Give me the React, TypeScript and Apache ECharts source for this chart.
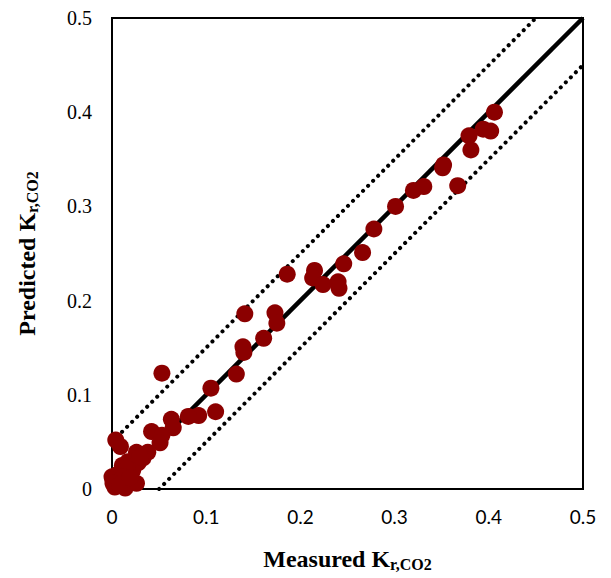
import React, { useEffect, useRef } from "react";
import * as echarts from "echarts";

const measured: number[] = [
  0.406, 0.394, 0.402, 0.379, 0.381, 0.352, 0.351, 0.367, 0.331, 0.32, 0.301, 0.278,
  0.266, 0.246, 0.215, 0.213, 0.224, 0.24, 0.241, 0.186, 0.173, 0.175, 0.141, 0.161,
  0.139, 0.14, 0.132, 0.105, 0.11, 0.092, 0.081, 0.063, 0.065, 0.042, 0.053, 0.051,
  0.004, 0.009, 0.026, 0.038, 0.033, 0.017, 0.028, 0.011, 0.022, 0.016, 0.005, 0.0,
  0.001, 0.012, 0.026, 0.003, 0.014, 0.021, 0.001, 0.053, 0.008, 0.019, 0.03,
];
const predicted: number[] = [
  0.4, 0.382, 0.38, 0.375, 0.36, 0.344, 0.341, 0.322, 0.321, 0.317, 0.3, 0.276,
  0.251, 0.239, 0.232, 0.224, 0.217, 0.22, 0.213, 0.228, 0.187, 0.176, 0.186, 0.16,
  0.151, 0.145, 0.122, 0.107, 0.082, 0.078, 0.077, 0.074, 0.065, 0.061, 0.057, 0.049,
  0.052, 0.045, 0.039, 0.039, 0.033, 0.029, 0.028, 0.025, 0.02, 0.022, 0.015, 0.013,
  0.01, 0.013, 0.006, 0.002, 0.001, 0.007, 0.006, 0.123, 0.004, 0.012, 0.034,
];
const identityLine: number[][] = [[0, 0], [0.5, 0.5]];
const upperBound: number[][] = [[0, 0.05], [0.45, 0.5]];
const lowerBound: number[][] = [[0.05, 0], [0.5, 0.45]];
const xTicks: string[] = ["0", "0.1", "0.2", "0.3", "0.4", "0.5"];

export default function App() {
  const ref = useRef<HTMLDivElement>(null);
  useEffect(() => {
    document.body.style.margin = "0";
    const chart = echarts.init(ref.current!, undefined, { renderer: "svg" });
    const points = measured.map((m, i) => [m, predicted[i]]);
    const titleRich = {
      a: { fontFamily: "'Liberation Serif', serif", fontWeight: "bold", fontSize: 24, color: "#000" },
      b: { fontFamily: "'Liberation Serif', serif", fontWeight: "bold", fontSize: 16, color: "#000", padding: [11, 0, 0, 0] },
    };
    chart.setOption({
      animation: false,
      backgroundColor: "#ffffff",
      grid: {
        left: 112, right: 28, top: 18, bottom: 89,
        show: true, borderColor: "#000", borderWidth: 2, backgroundColor: "transparent",
      },
      xAxis: {
        type: "value", min: 0, max: 0.5, interval: 0.1,
        axisLine: { show: false }, axisTick: { show: false }, splitLine: { show: false },
        axisLabel: {
          margin: 18, fontFamily: "Lato, 'Open Sans', sans-serif", fontSize: 19, color: "#000",
          formatter: (v: number) => xTicks[Math.round(v * 10)],
        },
        name: "{a|Measured K}{b|r,CO2}",
        nameLocation: "middle", nameGap: 56,
        nameTextStyle: { rich: titleRich },
      },
      yAxis: {
        type: "value", min: 0, max: 0.5, interval: 0.1,
        axisLine: { show: false }, axisTick: { show: false }, splitLine: { show: false },
        axisLabel: {
          margin: 20, fontFamily: "'Liberation Serif', serif", fontSize: 20, color: "#000",
          formatter: (v: number) => (v === 0 ? "0" : String(Math.round(v * 10) / 10)),
        },
        name: "{a|Predicted K}{b|r,CO2}",
        nameLocation: "middle", nameGap: 72,
        nameTextStyle: { rich: titleRich },
      },
      series: [
        {
          type: "line", data: upperBound, symbol: "none", silent: true,
          lineStyle: { color: "#000", width: 4, type: [0.1, 7], cap: "round" }, z: 1,
        },
        {
          type: "line", data: lowerBound, symbol: "none", silent: true,
          lineStyle: { color: "#000", width: 4, type: [0.1, 7], cap: "round" }, z: 1,
        },
        {
          type: "line", data: identityLine, symbol: "none", silent: true,
          lineStyle: { color: "#000", width: 4.5 }, z: 2,
        },
        {
          type: "scatter", data: points, symbol: "circle", symbolSize: 17,
          itemStyle: { color: "#8B0000", opacity: 1 }, clip: false, z: 3,
        },
      ],
    });
    return () => chart.dispose();
  }, []);
  return <div ref={ref} style={{ width: 611, height: 578 }} />;
}
